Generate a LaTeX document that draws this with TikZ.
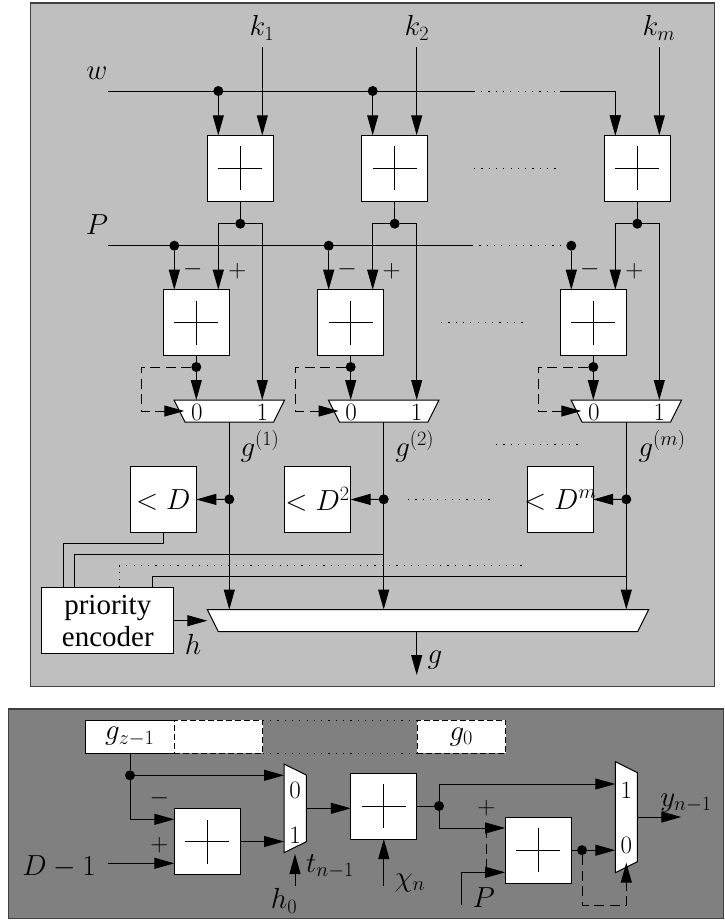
\documentclass[tikz,border=0pt]{standalone}
\usepackage{fix-cm}
\usepackage[no-math]{fontspec}
\usetikzlibrary{arrows.meta}
\newfontfamily\encfont{Liberation Serif}
\definecolor{PanelLight}{HTML}{BFBFBF}
\definecolor{PanelDark}{HTML}{808080}
\tikzset{
  toppanel/.style={draw=black!75,fill=PanelLight,line width=1.3pt},
  lowpanel/.style={draw=black!75,fill=PanelDark,line width=1.3pt},
  addbox/.style={
    draw,
    fill=white,
    minimum size=66pt,
    inner sep=0pt,
    outer sep=0pt,
    path picture={\draw[line width=1pt] (path picture bounding box.center) +(-22pt,0) -- +(22pt,0) +(0,-22pt) -- +(0,22pt);}
  },
  cmpbox/.style={draw,fill=white,minimum size=66pt,inner sep=0pt,outer sep=0pt,font=\fontsize{29}{33}\selectfont},
  muxframe/.style={minimum height=22pt,inner sep=0pt,outer sep=0pt},
  regbox/.style={draw,fill=white,minimum height=33.3pt,inner sep=0pt,outer sep=0pt,font=\fontsize{29}{33}\selectfont},
  dotnode/.style={circle,fill=black,minimum size=10pt,inner sep=0pt,outer sep=0pt},
  lbl/.style={inner sep=0pt,font=\fontsize{29}{33}\selectfont},
  signlbl/.style={inner sep=0pt,font=\fontsize{25}{30}\selectfont},
  sigarrow/.style={-{Triangle[length=20pt,width=11pt]}},
  dashwire/.style={line width=1pt,dash pattern=on 10pt off 5.5pt},
  dotwire/.style={line width=1pt,dash pattern=on 1.2pt off 6.1pt}
}
% white outline of a multiplexer, from the frame node it sits in
\newcommand{\hmuxbody}[1]{\draw[fill=white] (#1.north west) -- (#1.north east) -- ([xshift=-11pt]#1.south east) -- ([xshift=11pt]#1.south west) -- cycle;}
\newcommand{\vmuxbody}[1]{\draw[fill=white] (#1.north west) -- ([yshift=-11pt]#1.north east) -- ([yshift=11pt]#1.south east) -- (#1.south west) -- cycle;}
\begin{document}
\begin{tikzpicture}[x=1pt,y=-1pt,line width=1pt]
\useasboundingbox (0,0) rectangle (725,921);
\draw[toppanel] (30.5,3) rectangle (714.7,686.7);
\draw[lowpanel] (8.3,709) rectangle (723.5,918.3);

% upper diagram
\node[muxframe,minimum width=441.4pt] (bigmux) at (428,620.5) {};
\hmuxbody{bigmux}
\node[draw,fill=white,minimum width=132.3pt,minimum height=66.3pt,inner sep=0pt,outer sep=0pt,align=center,font=\encfont\fontsize{29}{32}\selectfont] (enc) at (107.8,620.8) {priority\\encoder};
\foreach \n/\b in {1/229.3,2/383.7,m/626.3}{
  \node[addbox] (sum\n) at (\b+11,168.3) {};
  \node[addbox] (sub\n) at (\b-33,322.7) {};
  \node[muxframe,minimum width=110.7pt] (mux\n) at (\b,411) {};
  \hmuxbody{mux\n}
  \coordinate (wtap\n) at (\b-11,91);
  \coordinate (ktop\n) at (\b+33,47);
  \node[dotnode] (fork\n) at (\b+11,223.7) {};
  \node[dotnode] (ptap\n) at (\b-55,245.7) {};
  \node[dotnode] (loop\n) at (\b-33,367) {};
  \node[dotnode] (out\n) at (\b,499.3) {};
  \coordinate (bend\n) at (\b-88.3,411);
  \coordinate (ret\n) at (\b-45,411);
  \draw[sigarrow] (wtap\n) -- (wtap\n |- sum\n.north);
  \draw[sigarrow] (ktop\n) -- (ktop\n |- sum\n.north);
  \draw (sum\n) -- (fork\n);
  \draw[sigarrow] (fork\n) -| (wtap\n |- sub\n.north);
  \draw[sigarrow] (fork\n) -| (ktop\n |- mux\n.north);
  \draw[sigarrow] (ptap\n) -- (ptap\n |- sub\n.north);
  \draw (sub\n) -- (loop\n);
  \draw[sigarrow] (loop\n) -- (loop\n |- mux\n.north);
  \draw[dashwire,sigarrow] (loop\n) -| (bend\n) -- (ret\n);
  \draw[sigarrow] (mux\n.south) -- (mux\n.south |- bigmux.north);
  \node[signlbl] (zero\n) at (\b-32.5,412) {$0$};
  \node[signlbl] (one\n) at (\b+33,412) {$1$};
  \node[signlbl] (minus\n) at (\b-36.5,269) {$-$};
  \node[signlbl] (plus\n) at (\b+8,271.5) {$+$};
}
\node[lbl] (k1) at (262,28) {$k_1$};
\node[lbl] (k2) at (417,28) {$k_2$};
\node[lbl] (km) at (659,28) {$k_m$};
\node[lbl] (wlbl) at (97,73) {$w$};
\node[lbl] (plbl) at (97,225) {$P$};
\node[lbl] (g1) at (260,446) {$g^{(1)}$};
\node[lbl] (g2) at (414.7,446) {$g^{(2)}$};
\node[lbl] (gm) at (662,446) {$g^{(m)}$};
\node[cmpbox] (cmp1) at (163.3,499.5) {\makebox[0pt]{$<D$}};
\node[cmpbox] (cmp2) at (317.6,499.5) {\makebox[0pt]{$<D^2$}};
\node[cmpbox] (cmpm) at (560.2,499.5) {\makebox[0pt]{$<D^m$}};
\foreach \n in {1,2,m}{
  \draw[sigarrow] (out\n) -- (cmp\n.east);
}

% buses with their gaps
\coordinate (win) at (108,91);
\coordinate (wgap) at (473.7,91);
\coordinate (wres) at (560,91);
\coordinate (pin) at (108,245.7);
\coordinate (pgap) at (472,245.7);
\draw (win) -- (wgap);
\draw[dotwire] (wgap) -- (wres);
\draw[sigarrow] (wres) -| (wtapm |- summ.north);
\node[dotnode] (wdot1) at (wtap1) {};
\node[dotnode] (wdot2) at (wtap2) {};
\draw (pin) -- (pgap);
\draw[dotwire] (pgap) -- (ptapm);

% gaps between the columns
\coordinate (r1a) at (474,168.3);
\coordinate (r1b) at (556,168.3);
\coordinate (r2a) at (441,322.7);
\coordinate (r2b) at (523.7,322.7);
\coordinate (r3a) at (496,444);
\coordinate (r3b) at (578,444);
\coordinate (r4a) at (408,499.3);
\coordinate (r4b) at (490,499.3);
\draw[dotwire] (r1a) -- (r1b);
\draw[dotwire] (r2a) -- (r2b);
\draw[dotwire] (r3a) -- (r3b);
\draw[dotwire] (r4a) -- (r4b);

% encoder wires
\coordinate (e1) at (63.7,543.3);
\coordinate (e2) at (74.7,554.3);
\coordinate (e3) at (119,565.7);
\coordinate (e3b) at (523.7,565.7);
\coordinate (e4) at (152,576.7);
\draw (cmp1.south) |- (e1) -- (e1 |- enc.north);
\draw (e2 |- enc.north) -- (e2) -- (e2 -| mux2.south);
\draw[dotwire] (e3 |- enc.north) -- (e3) -- (e3b);
\draw (e4 |- enc.north) -- (e4) -- (e4 -| muxm.south);
\coordinate (hend) at (207.3,620.7);
\draw[sigarrow] (enc.east |- hend) -- (hend);
\node[lbl] (hlbl) at (193,644) {$h$};
\coordinate (gend) at (416.7,675);
\draw[sigarrow] (gend |- bigmux.south) -- (gend);
\node[lbl] (glbl) at (435,660) {$g$};

% lower diagram
\node[regbox,minimum width=88.3pt] (regtop) at (129.85,736.65) {$g_{z-1}$};
\node[regbox,minimum width=88.7pt,dash pattern=on 6pt off 3pt] (regmid) at (218.35,736.65) {};
\node[regbox,minimum width=88.7pt,dash pattern=on 6pt off 3pt] (reglow) at (461.35,736.65) {$g_0$};
\draw[dotwire] (regmid.north east) -- (reglow.north west);
\draw[dotwire] (regmid.south east) -- (reglow.south west);

\node[muxframe,minimum width=22.3pt,minimum height=88.7pt] (muxa) at (295.15,808.35) {};
\vmuxbody{muxa}
\node[muxframe,minimum width=22pt,minimum height=111pt] (muxb) at (626.3,817.2) {};
\vmuxbody{muxb}
\node[addbox] (suba) at (207.3,841.5) {};
\node[addbox] (sumb) at (383.8,806) {};
\node[addbox] (subb) at (538.2,850.2) {};

\node[dotnode] (gdot) at (130,775.3) {};
\node[dotnode] (sdot) at (439,806) {};
\node[dotnode] (rdot) at (582,850.2) {};
\coordinate (dm1) at (108.3,863.3);
\coordinate (h0a) at (295,885.7);
\coordinate (h0b) at (295,854);
\coordinate (chia) at (383.8,885.7);
\coordinate (pa) at (461,905);
\coordinate (pb) at (461,872.3);
\coordinate (dasha) at (486.3,828);
\coordinate (dashb) at (486.3,872);
\coordinate (ra) at (582,905);
\coordinate (rb) at (626.3,905);
\coordinate (rc) at (626.3,862.7);
\coordinate (yend) at (681.3,817);
\coordinate (muxain) at (284,841.5);
\coordinate (mout) at (306.3,808.3);
\coordinate (upper) at (439,784);
\coordinate (lower) at (439,828);
\coordinate (suban) at (130,819.3);

\draw (regtop.south -| gdot) -- (gdot);
\draw[sigarrow] (gdot) -- (gdot -| muxain);
\draw[sigarrow] (gdot) -- (suban) -- (suban -| suba.west);
\draw[sigarrow] (dm1) -- (dm1 -| suba.west);
\draw[sigarrow] (suba) -- (muxain);
\draw[sigarrow] (h0a) -- (h0b);
\draw[sigarrow] (mout) -- (mout -| sumb.west);
\draw[sigarrow] (chia) -- (chia |- sumb.south);
\draw (sumb) -- (sdot);
\draw[sigarrow] (sdot) -- (upper) -- (upper -| muxb.west);
\draw[sigarrow] (sdot) -- (lower) -- (lower -| subb.west);
\draw[dashwire] (dasha) -- (dashb);
\draw[sigarrow] (pa) -- (pb) -- (pb -| subb.west);
\draw (subb) -- (rdot);
\draw[sigarrow] (rdot) -- (rdot -| muxb.west);
\draw[dashwire,sigarrow] (rdot) -- (ra) -- (rb) -- (rc);
\draw[sigarrow] (yend -| muxb.east) -- (yend);

\node[signlbl] (za) at (295,790) {$0$};
\node[signlbl] (oa) at (295,835) {$1$};
\node[signlbl] (ob) at (626.3,790) {$1$};
\node[signlbl] (zb) at (626.3,845.7) {$0$};
\node[signlbl] (ma) at (159.3,798.3) {$-$};
\node[signlbl] (pla) at (159.3,845.7) {$+$};
\node[signlbl] (plb) at (486.3,808.7) {$+$};
\node[lbl] (dlbl) at (59,866.7) {$D-1$};
\node[lbl] (hzero) at (284,901) {$h_0$};
\node[lbl] (tlbl) at (330,866.7) {$t_{n-1}$};
\node[lbl] (chilbl) at (410,883) {$\chi_n$};
\node[lbl] (plow) at (483.7,898) {$P$};
\node[lbl] (ylbl) at (686,803) {$y_{n-1}$};
\end{tikzpicture}
\end{document}
